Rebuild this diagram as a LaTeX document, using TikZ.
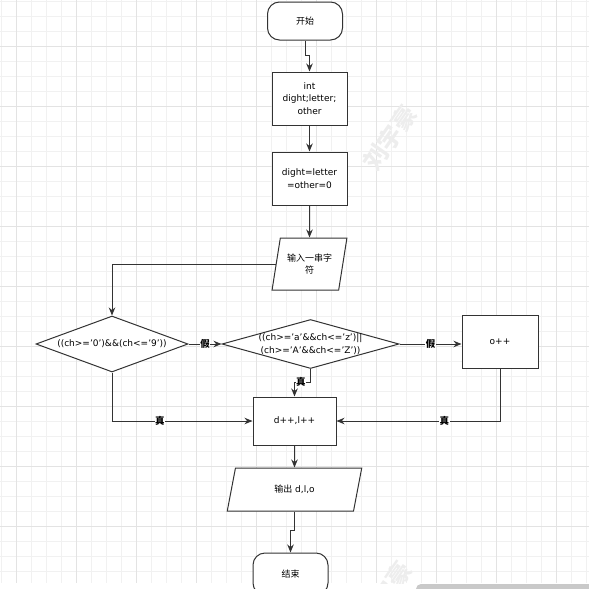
\documentclass[tikz,border=0pt]{standalone}
\usepackage{fontspec}
\setmainfont{DejaVu Sans}
\newfontfamily\cjk{Noto Sans CJK SC}
\usetikzlibrary{shapes.geometric,arrows.meta}

\definecolor{linec}{HTML}{333333}
\definecolor{gridminor}{HTML}{F1F1F1}
\definecolor{gridmajor}{HTML}{E3E3E3}
\definecolor{markc}{HTML}{EDEDED}
\definecolor{barc}{HTML}{C9C9C9}

\tikzset{
  flow/.style={draw=linec, line width=1pt, fill=white, inner sep=0pt,
    align=center, font=\fontsize{9}{12.5}\selectfont},
  term/.style={flow, rounded corners=12pt, minimum width=75pt},
  proc/.style={flow, rectangle},
  io/.style={flow, trapezium, trapezium left angle=#1,
    trapezium stretches=true},
  dec/.style={flow, diamond, inner sep=-3pt, shape aspect=#1},
  arr/.style={draw=linec, line width=1pt, -{Stealth[length=8pt,width=6.5pt]}},
  lbl/.style={fill=white, inner sep=0.5pt,
    font=\cjk\bfseries\fontsize{9.5}{10}\selectfont},
}

\begin{document}
\begin{tikzpicture}[x=1pt,y=-1pt]
\useasboundingbox (0,0) rectangle (589,589);
% background grid
\foreach \gx in {1,16,...,589}
    \draw[gridminor] (\gx,0) -- (\gx,583);
\foreach \gy in {1,16,...,583}
    \draw[gridminor] (0,\gy) -- (589,\gy);
\foreach \gx in {16,76,...,589}
    \draw[gridmajor] (\gx,0) -- (\gx,583);
\foreach \gy in {46,106,...,583}
    \draw[gridmajor] (0,\gy) -- (589,\gy);
% watermark
\begin{scope}
  \clip (0,0) rectangle (589,583);
  \node[markc, rotate=55, font=\cjk\bfseries\fontsize{24}{24}\selectfont]
      (mark1) at (390,138) {刘宇豪};
  \node[markc, rotate=55, font=\cjk\bfseries\fontsize{24}{24}\selectfont]
      (mark2) at (385,594) {刘宇豪};
\end{scope}

% nodes
\node[term, minimum height=38pt] (start) at (305,21) {\cjk 开始};
\node[proc, minimum width=75pt, minimum height=53pt] (init) at (309.5,98.5)
    {int\\dight;letter;\\other};
\node[proc, minimum width=75pt, minimum height=53pt] (zero) at (309.5,178.5)
    {dight=letter\\=other=0};
\node[io=73, trapezium right angle=107, minimum width=75pt, minimum height=52pt]
    (input) at (309.5,264) {\cjk 输入一串字\\\cjk 符};
\node[dec=2.7, minimum width=152pt, minimum height=56pt] (d1) at (112,344)
    {((ch>='0')\&\&(ch<='9'))};
\node[dec=3.6, minimum width=177pt, minimum height=49pt] (d2) at (310.5,344)
    {((ch>='a'\&\&ch<='z')||\\(ch>='A'\&\&ch<='Z'))};
\node[proc, minimum width=76pt, minimum height=53pt] (other) at (500,341.5)
    {o++};
\node[proc, minimum width=83pt, minimum height=48pt] (count) at (294.5,421)
    {d++,l++};
\node[io=72, trapezium right angle=108, minimum width=135pt, minimum height=43pt]
    (output) at (294.5,489.5) {{\cjk 输出} d,l,o};
\node[term, minimum height=42pt] (end) at (290.5,574) {\cjk 结束};

% connectors
\draw[arr] (start.south) -- ++(0,15) -| (init.north);
\draw[arr] (init.south) -- (zero.north);
\draw[arr] (zero.south) -- (input.north);
\draw[arr] (input.west) -| (d1.north);
\draw[arr] (d1.east) -- node[lbl]{假} (d2.west);
\draw[arr] (d2.east) -- node[lbl]{假} (d2.east -| other.west);
\draw[arr] (d2.south) -- ++(0,13) -| node[lbl,pos=0.3]{真} (count.north);
\draw[arr] (d1.south) |- node[lbl,pos=0.67]{真} (count.west);
\draw[arr] (other.south) |- node[lbl,pos=0.67]{真} (count.east);
\draw[arr] (count.south) -- (output.north);
\draw[arr] (output.south) -- ++(0,19) -| (end.north);

% scroll bar
\fill[barc, rounded corners=5pt] (416,584) rectangle (600,600);
\end{tikzpicture}
\end{document}
